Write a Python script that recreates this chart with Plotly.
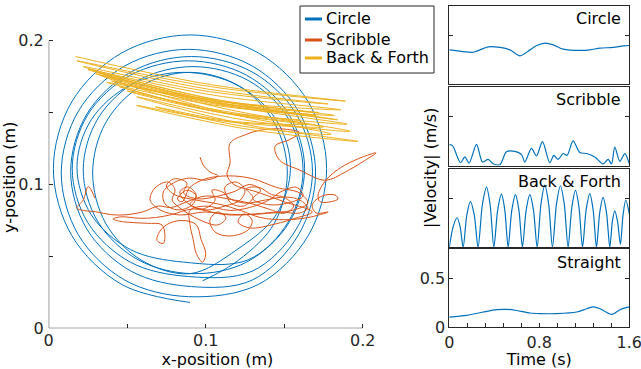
import plotly.graph_objects as go

BLUE = "#0072BD"
ORANGE = "#D95319"
YELLOW = "#EDB120"
AX = "#262626"
FONT = "DejaVu Sans"

# ---------------- trajectory data (m) ----------------
circle_x = [0.098,
            0.121, 0.1437, 0.152, 0.1437, 0.121, 0.090, 0.059, 0.0363, 0.028, 0.0363, 0.059, 0.090,
            0.120, 0.1449, 0.154, 0.1449, 0.120, 0.086, 0.052, 0.0271, 0.018, 0.0271, 0.052, 0.086,
            0.127, 0.1526, 0.162, 0.1526, 0.127, 0.092, 0.057, 0.0314, 0.022, 0.0314, 0.057, 0.092,
            0.126, 0.1531, 0.163, 0.1531, 0.126, 0.089, 0.052, 0.0249, 0.015, 0.0249, 0.052, 0.089,
            0.1295, 0.1577, 0.168, 0.1577, 0.1295, 0.091, 0.0525, 0.0243, 0.014, 0.0243, 0.0525, 0.091,
            0.1295, 0.1591, 0.170, 0.1591, 0.1295, 0.089, 0.0485, 0.0189, 0.008, 0.0189, 0.0485, 0.089,
            0.1335, 0.1653, 0.177, 0.1653, 0.1335, 0.090, 0.0465, 0.0147, 0.003, 0.0147, 0.0465, 0.090]
circle_y = [0.033,
            0.0474, 0.073, 0.108, 0.143, 0.1686, 0.178, 0.1686, 0.143, 0.108, 0.073, 0.0474, 0.038,
            0.0548, 0.079, 0.112, 0.145, 0.1692, 0.178, 0.1692, 0.145, 0.112, 0.079, 0.0548, 0.046,
            0.0476, 0.074, 0.110, 0.146, 0.1724, 0.182, 0.1724, 0.146, 0.110, 0.074, 0.0476, 0.038,
            0.046, 0.0735, 0.111, 0.1485, 0.176, 0.186, 0.176, 0.1485, 0.111, 0.0735, 0.046, 0.036,
            0.0397, 0.069, 0.109, 0.149, 0.1783, 0.189, 0.1783, 0.149, 0.109, 0.069, 0.0397, 0.029,
            0.0335, 0.065, 0.108, 0.151, 0.1825, 0.194, 0.1825, 0.151, 0.108, 0.065, 0.0335, 0.022,
            0.0305, 0.0645, 0.111, 0.1575, 0.1915, 0.204, 0.1915, 0.1575, 0.111, 0.0645, 0.0305, 0.018]

scribble_x = [0.0964, 0.0984, 0.1027, 0.1078,
              0.0996, 0.090, 0.0805, 0.073, 0.0741, 0.0824, 0.0913, 0.0939, 0.0888, 0.0836,
              0.0875, 0.0996, 0.1123, 0.122, 0.125, 0.1193, 0.1123, 0.1142, 0.125, 0.138,
              0.1505, 0.160, 0.165, 0.160, 0.147, 0.1315, 0.1155, 0.0996, 0.0836, 0.071,
              0.0646, 0.0677, 0.076, 0.0805, 0.0786, 0.0836, 0.0964, 0.1078, 0.1129, 0.1078,
              0.1027, 0.1059, 0.1155, 0.127, 0.1295, 0.1244, 0.1206, 0.1282, 0.1442, 0.1576,
              0.1678,
              0.150, 0.132, 0.118, 0.1136, 0.1155, 0.1155, 0.125, 0.136, 0.1505, 0.160,
              0.153, 0.1442, 0.147, 0.160, 0.176, 0.189, 0.1997, 0.2085, 0.1983, 0.1855,
              0.1766, 0.1716, 0.173, 0.1843, 0.1824, 0.1742, 0.1678, 0.1703, 0.178,
              0.165, 0.150, 0.135, 0.122, 0.110, 0.100, 0.090, 0.080, 0.075, 0.080,
              0.088, 0.086, 0.095, 0.108, 0.118, 0.128, 0.135, 0.130, 0.140, 0.152,
              0.162, 0.158, 0.148, 0.140, 0.128, 0.115, 0.100, 0.090,
              0.090, 0.092, 0.094, 0.098, 0.100, 0.097, 0.094, 0.085, 0.075, 0.070,
              0.069, 0.073, 0.074, 0.072,
              0.063, 0.054, 0.045, 0.041, 0.046, 0.058, 0.068, 0.078,
              0.092, 0.108, 0.125, 0.140, 0.155, 0.165, 0.160, 0.145, 0.130, 0.115,
              0.100, 0.090, 0.085,
              0.082, 0.088, 0.094, 0.090, 0.098, 0.106, 0.104, 0.112, 0.116, 0.124,
              0.130, 0.126, 0.134, 0.142, 0.150, 0.156, 0.150, 0.140, 0.128, 0.114,
              0.100, 0.088, 0.078, 0.070,
              0.060, 0.050, 0.040, 0.030, 0.022, 0.0178, 0.022, 0.0252, 0.0295]
scribble_y = [0.119, 0.1136, 0.1087, 0.106,
              0.103, 0.1045, 0.1017, 0.0948, 0.0865, 0.0823, 0.0857, 0.0927, 0.0983, 0.0948,
              0.0879, 0.0823, 0.0851, 0.0892, 0.0962, 0.1017, 0.0983, 0.0913, 0.0871, 0.0892,
              0.0913, 0.0892, 0.0837, 0.0802, 0.0809, 0.0795, 0.0788, 0.0809, 0.0788, 0.0823,
              0.0892, 0.0976, 0.1017, 0.0962, 0.0892, 0.0837, 0.0753, 0.0719, 0.0767, 0.0809,
              0.0753, 0.067, 0.0642, 0.0684, 0.0753, 0.0795, 0.0739, 0.0698, 0.0725, 0.0767,
              0.0809,
              0.088, 0.095, 0.100, 0.1066, 0.1148, 0.1287, 0.1345, 0.138, 0.1385, 0.136,
              0.131, 0.1266, 0.117, 0.110, 0.103, 0.1087, 0.1156, 0.122, 0.1184, 0.1114,
              0.103, 0.0927, 0.0879, 0.0899, 0.0927, 0.092, 0.0858, 0.0802, 0.0809,
              0.077, 0.0755, 0.077, 0.082, 0.086, 0.088, 0.090, 0.093, 0.099, 0.104,
              0.101, 0.094, 0.090, 0.092, 0.095, 0.100, 0.096, 0.090, 0.086, 0.087,
              0.092, 0.098, 0.095, 0.089, 0.084, 0.082, 0.085, 0.082,
              0.072, 0.062, 0.052, 0.046, 0.052, 0.062, 0.072, 0.075, 0.072, 0.066,
              0.061, 0.059, 0.065, 0.072,
              0.073, 0.0735, 0.0745, 0.076, 0.0775, 0.0765, 0.077, 0.079,
              0.083, 0.080, 0.079, 0.080, 0.082, 0.087, 0.094, 0.098, 0.104, 0.106,
              0.104, 0.098, 0.088,
              0.090, 0.096, 0.092, 0.086, 0.083, 0.089, 0.096, 0.094, 0.087, 0.085,
              0.091, 0.097, 0.098, 0.093, 0.091, 0.085, 0.080, 0.083, 0.087, 0.090,
              0.092, 0.088, 0.084, 0.085,
              0.081, 0.079, 0.079, 0.081, 0.082, 0.0836, 0.0892, 0.0985, 0.0904]

backforth_x = [0.017, 0.103, 0.189, 0.1035, 0.018, 0.098, 0.178, 0.100, 0.022,
               0.103, 0.184, 0.1045, 0.025, 0.1055, 0.186, 0.1115, 0.037,
               0.1035, 0.170, 0.100, 0.030, 0.111, 0.192, 0.124, 0.056,
               0.1265, 0.197, 0.1265, 0.056, 0.1155, 0.175, 0.110, 0.045,
               0.105, 0.165, 0.1165, 0.068, 0.124, 0.180,
               0.1065, 0.033, 0.1025, 0.172, 0.106, 0.040, 0.111, 0.182,
               0.105, 0.028, 0.109, 0.190, 0.120, 0.050, 0.105, 0.160]
backforth_y = [0.189, 0.1695, 0.158, 0.168, 0.186, 0.167, 0.156, 0.165, 0.182,
               0.1595, 0.145, 0.158, 0.180, 0.162, 0.152, 0.1575, 0.171,
               0.1555, 0.148, 0.158, 0.177, 0.153, 0.137, 0.145, 0.161,
               0.1415, 0.130, 0.1385, 0.155, 0.1435, 0.140, 0.150, 0.168,
               0.151, 0.142, 0.144, 0.154, 0.1405, 0.135,
               0.1515, 0.176, 0.159, 0.150, 0.157, 0.172, 0.155, 0.148,
               0.1595, 0.179, 0.156, 0.142, 0.1495, 0.165, 0.151, 0.145]

# ---------------- speed data (m/s) ----------------
circle_t = [0, 0.124, 0.213, 0.273, 0.347, 0.451, 0.54, 0.628, 0.717, 0.777,
            0.851, 0.924, 1.013, 1.162, 1.251, 1.34, 1.458, 1.547, 1.6]
circle_v = [0.35, 0.333, 0.326, 0.35, 0.381, 0.375, 0.35, 0.289, 0.35, 0.395,
            0.419, 0.402, 0.357, 0.344, 0.35, 0.368, 0.375, 0.392, 0.395]

scribble_t = [0, 0.03, 0.10, 0.138, 0.176, 0.242, 0.295, 0.345, 0.39, 0.449,
              0.508, 0.567, 0.642, 0.671, 0.73, 0.775, 0.828, 0.893, 0.929, 0.967,
              1.012, 1.047, 1.10, 1.16, 1.22, 1.293, 1.367, 1.412, 1.442, 1.471,
              1.516, 1.56, 1.6]
scribble_v = [0.215, 0.20, 0.028, 0.087, 0.024, 0.215, 0.035, 0.062, 0.017, 0.007,
              0.139, 0.146, 0.111, 0.035, 0.174, 0.097, 0.243, 0.028, 0.104, 0.062,
              0.122, 0.104, 0.25, 0.132, 0.122, 0.087, 0.017, 0.062, 0.017, 0.187,
              0.042, 0.122, 0.017]

backforth_t = [0.0, 0.0345, 0.069, 0.096, 0.123,
               0.1555, 0.188, 0.222, 0.256,
               0.2935, 0.331, 0.3635, 0.396,
               0.43, 0.464, 0.4935, 0.523,
               0.5555, 0.588, 0.619, 0.65,
               0.683, 0.716, 0.7485, 0.781,
               0.815, 0.849, 0.883, 0.917,
               0.9525, 0.988, 1.022, 1.056,
               1.089, 1.122, 1.153, 1.184,
               1.2165, 1.249, 1.2785, 1.308,
               1.3375, 1.367, 1.397, 1.427,
               1.449, 1.471, 1.496, 1.521,
               1.545, 1.569, 1.6]
backforth_v = [0.0, 0.21, 0.30, 0.21, 0.0,
               0.326, 0.466, 0.326, 0.0,
               0.427, 0.61, 0.427, 0.0,
               0.378, 0.54, 0.378, 0.0,
               0.375, 0.535, 0.375, 0.0,
               0.375, 0.535, 0.375, 0.0,
               0.442, 0.632, 0.442, 0.0,
               0.4375, 0.625, 0.4375, 0.0,
               0.404, 0.577, 0.404, 0.0,
               0.3815, 0.545, 0.3815, 0.0,
               0.355, 0.507, 0.355, 0.0,
               0.258, 0.369, 0.258, 0.03,
               0.336, 0.48, 0.34]

straight_t = [0, 0.155, 0.302, 0.421, 0.51, 0.599, 0.717, 0.806, 0.955,
              1.132, 1.221, 1.28, 1.34, 1.444, 1.517, 1.6]
straight_v = [0.104, 0.122, 0.156, 0.18, 0.183, 0.172, 0.146, 0.14, 0.14,
              0.156, 0.19, 0.208, 0.19, 0.132, 0.18, 0.208]

legend_names = ["Circle", "Scribble", "Back & Forth"]
panel_names = ["Circle", "Scribble", "Back & Forth", "Straight"]
main_ticks = [0, 0.05, 0.1, 0.15, 0.2]
main_ticktext = ["0", "", "0.1", "", "0.2"]
time_ticks = [0, 0.16, 0.32, 0.48, 0.64, 0.8, 0.96, 1.12, 1.28, 1.44, 1.6]
time_ticktext = ["0", "", "", "", "", "0.8", "", "", "", "", "1.6"]

W, H = 641, 369
COLORS = [BLUE, ORANGE, YELLOW]


def px_x(p):
    return p / W


def px_y(p):
    return 1 - p / H


fig = go.Figure()

for xs, ys, col, name in zip([circle_x, scribble_x, backforth_x],
                             [circle_y, scribble_y, backforth_y], COLORS, legend_names):
    fig.add_trace(go.Scatter(x=xs, y=ys, mode="lines", name=name, showlegend=False,
                             line=dict(color=col, width=1, shape="spline", smoothing=1),
                             xaxis="x", yaxis="y", hoverinfo="skip"))

panel_data = [(circle_t, circle_v), (scribble_t, scribble_v),
              (backforth_t, backforth_v), (straight_t, straight_v)]
for i, (ts, vs) in enumerate(panel_data):
    n = i + 2
    fig.add_trace(go.Scatter(x=ts, y=vs, mode="lines", name=panel_names[i], showlegend=False,
                             line=dict(color=BLUE, width=1.2, shape="spline", smoothing=0.8),
                             xaxis=f"x{n}", yaxis=f"y{n}", hoverinfo="skip"))

layout = dict(
    width=W, height=H, margin=dict(l=0, r=0, t=0, b=0, autoexpand=False),
    paper_bgcolor="white", plot_bgcolor="rgba(0,0,0,0)",
    font=dict(family=FONT, size=15, color=AX),
    showlegend=False,
    xaxis=dict(domain=[px_x(48.7), px_x(48.7 + 0.215 * 1570)], range=[0, 0.215],
               tickvals=main_ticks, ticktext=main_ticktext, ticks="inside", ticklen=4,
               tickcolor=AX, showline=False, showgrid=False, zeroline=False,
               automargin=False, tickfont=dict(size=16), ticklabelstandoff=1,
               title=dict(text="x-position (m)", font=dict(size=16, color="black"), standoff=2),
               anchor="y"),
    yaxis=dict(domain=[px_y(328.3), px_y(328.3 - 0.21 * 1438)], range=[0, 0.21],
               tickvals=main_ticks, ticktext=main_ticktext, ticks="inside", ticklen=4,
               tickcolor=AX, showline=False, showgrid=False, zeroline=False,
               automargin=False, tickfont=dict(size=16), ticklabelstandoff=4,
               title=dict(text="y-position (m)", font=dict(size=16, color="black"), standoff=4),
               anchor="x"),
)

panel_tops = [6, 87, 168.5, 249]
panel_bots = [84, 165.5, 247.3, 327.3]
for i in range(4):
    n = i + 2
    last = (i == 3)
    xa = dict(domain=[px_x(449.3), px_x(629.3)], range=[0, 1.6], anchor=f"y{n}",
              showline=True, mirror=True, linecolor=AX, linewidth=1, automargin=False,
              showgrid=False, zeroline=False, fixedrange=True)
    if last:
        xa.update(tickvals=time_ticks, ticktext=time_ticktext, ticks="inside",
                  ticklen=4, tickcolor=AX, ticklabeloverflow="allow",
                  tickfont=dict(size=16),
                  title=dict(text="Time (s)", font=dict(size=16, color="black"), standoff=0))
    else:
        xa.update(showticklabels=False, ticks="")
    ya = dict(domain=[px_y(panel_bots[i]), px_y(panel_tops[i])], range=[0, 0.8],
              anchor=f"x{n}", showline=True, mirror="ticks", linecolor=AX, linewidth=1,
              tickvals=[0, 0.5], ticks="inside", ticklen=4, tickcolor=AX, automargin=False,
              showgrid=False, zeroline=False, fixedrange=True)
    if last:
        ya.update(ticktext=["0", "0.5"], tickfont=dict(size=16))
    else:
        ya.update(showticklabels=False)
    layout[f"xaxis{n}"] = xa
    layout[f"yaxis{n}"] = ya

annotations = []
for i, name in enumerate(panel_names):
    annotations.append(dict(text=name, xref="paper", yref="paper",
                            x=px_x(622.5), y=px_y(panel_tops[i] + 13),
                            xanchor="right", yanchor="middle", showarrow=False,
                            font=dict(family=FONT, size=16, color="black")))
annotations.append(dict(text="|Velocity| (m/s)", xref="paper", yref="paper",
                        x=px_x(430), y=px_y(168), textangle=-90,
                        xanchor="center", yanchor="middle", showarrow=False,
                        font=dict(family=FONT, size=16, color="black")))

shapes = [
    dict(type="line", xref="x", yref="y", x0=0, y0=0, x1=0.2, y1=0,
         line=dict(color=AX, width=1)),
    dict(type="line", xref="x", yref="y", x0=0, y0=0, x1=0, y1=0.2,
         line=dict(color=AX, width=1)),
    dict(type="rect", xref="paper", yref="paper", x0=px_x(300), x1=px_x(434),
         y0=px_y(73), y1=px_y(6), line=dict(color=AX, width=1), fillcolor="white",
         layer="above"),
]
legend_rows = [19, 40, 58]
for name, col, py in zip(legend_names, COLORS, legend_rows):
    shapes.append(dict(type="line", xref="paper", yref="paper",
                       x0=px_x(305), x1=px_x(322), y0=px_y(py), y1=px_y(py),
                       line=dict(color=col, width=3), layer="above"))
    annotations.append(dict(text=name, xref="paper", yref="paper",
                            x=px_x(324), y=px_y(py - 1), xanchor="left", yanchor="middle",
                            showarrow=False, font=dict(family=FONT, size=16, color="black")))

layout["annotations"] = annotations
layout["shapes"] = shapes

fig.update_layout(**layout)
fig.write_html("out.html")
